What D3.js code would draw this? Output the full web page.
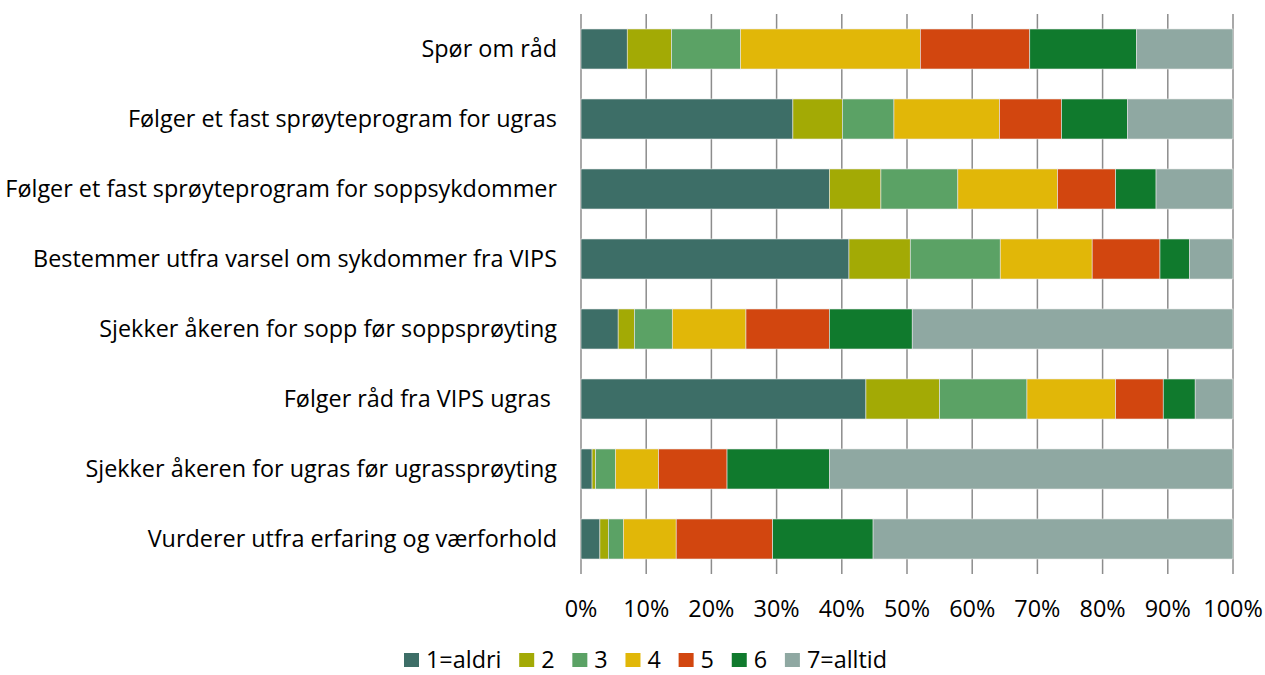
<!DOCTYPE html>
<html>
<head>
<meta charset="utf-8">
<script src="https://cdn.jsdelivr.net/npm/d3@7"></script>
<style>
  body { margin: 0; background: #fff; }
  svg { display: block; }
  text { font-family: "Open Sans", "Noto Sans", sans-serif; fill: #000; white-space: pre; }
</style>
</head>
<body>
<svg></svg>
<script>
const width = 1265, height = 675;

const categories = [
    "Spør om råd",
    "Følger et fast sprøyteprogram for ugras",
    "Følger et fast sprøyteprogram for soppsykdommer",
    "Bestemmer utfra varsel om sykdommer fra VIPS",
    "Sjekker åkeren for sopp før soppsprøyting",
    "Følger råd fra VIPS ugras ",
    "Sjekker åkeren for ugras før ugrassprøyting",
    "Vurderer utfra erfaring og værforhold"
];

const seriesNames = ["1=aldri", "2", "3", "4", "5", "6", "7=alltid"];
const colors = ["#3d6e67", "#a3aa05", "#5ba265", "#e1b708", "#d2460f", "#107a2d", "#8fa8a2"];

// percent per answer level, same order as categories
const level1 = [7.1, 32.5, 38.1, 41.1, 5.7, 43.7, 1.7, 2.9];
const level2 = [6.8, 7.6, 7.9, 9.4, 2.5, 11.3, 0.55, 1.3];
const level3 = [10.6, 7.9, 11.8, 13.8, 5.8, 13.4, 3.05, 2.3];
const level4 = [27.6, 16.2, 15.3, 14.1, 11.3, 13.6, 6.6, 8.1];
const level5 = [16.8, 9.5, 8.9, 10.4, 12.8, 7.3, 10.5, 14.8];
const level6 = [16.4, 10.1, 6.2, 4.5, 12.7, 4.9, 15.7, 15.4];
const level7 = [14.8, 16.2, 11.8, 6.7, 49.2, 5.8, 61.9, 55.2];

const tickValues = [0, 0.1, 0.2, 0.3, 0.4, 0.5, 0.6, 0.7, 0.8, 0.9, 1];

const levels = [level1, level2, level3, level4, level5, level6, level7];
const rows = categories.map((c, i) => {
    const r = { cat: c };
    seriesNames.forEach((s, k) => r[s] = levels[k][i]);
    return r;
});

const stacked = d3.stack()
    .keys(seriesNames)
    .offset(d3.stackOffsetExpand)(rows);

const svg = d3.select("svg")
    .attr("width", width)
    .attr("height", height);

const fontSize = "23.4px";

const x = d3.scaleLinear().domain([0, 1]).range([581, 1233]);
const y = d3.scaleBand()
    .domain(categories)
    .range([14, 574])
    .paddingInner(30 / 70)
    .paddingOuter(15 / 70);

// vertical gridlines
svg.append("g")
    .selectAll("line")
    .data(tickValues)
    .enter().append("line")
    .attr("x1", d => x(d))
    .attr("x2", d => x(d))
    .attr("y1", 14)
    .attr("y2", 574)
    .attr("stroke", "#8c8c8c")
    .attr("stroke-width", 1.5);

// bars
svg.append("g")
    .selectAll("g")
    .data(stacked)
    .enter().append("g")
    .attr("fill", (d, i) => colors[i])
    .selectAll("rect")
    .data(d => d)
    .enter().append("rect")
    .attr("x", d => x(d[0]))
    .attr("width", d => x(d[1]) - x(d[0]))
    .attr("y", d => y(d.data.cat))
    .attr("height", y.bandwidth())
    .attr("stroke", "#e6e6e6")
    .attr("stroke-width", 0.6);

// category labels
svg.append("g")
    .selectAll("text")
    .data(categories)
    .enter().append("text")
    .attr("x", 557)
    .attr("y", d => y(d) + y.bandwidth() / 2)
    .attr("dy", "0.35em")
    .attr("text-anchor", "end")
    .style("font-size", fontSize)
    .text(d => d);

// x axis labels
svg.append("g")
    .selectAll("text")
    .data(tickValues)
    .enter().append("text")
    .attr("x", d => x(d))
    .attr("y", 609)
    .attr("dy", "0.35em")
    .attr("text-anchor", "middle")
    .style("font-size", fontSize)
    .text(d => d3.format(".0%")(d));

// legend: spread items between x=404 and x=887
const legend = svg.append("g");
const items = seriesNames.map((s, i) => {
    const g = legend.append("g");
    g.append("rect")
        .attr("x", 0).attr("y", 653)
        .attr("width", 15).attr("height", 14)
        .attr("fill", colors[i]);
    const t = g.append("text")
        .attr("x", 22).attr("y", 660)
        .attr("dy", "0.35em")
        .style("font-size", fontSize)
        .text(s);
    return { g: g, w: 22 + t.node().getComputedTextLength() };
});
const totalW = d3.sum(items, d => d.w);
const gap = (887 - 404 - totalW) / (items.length - 1);
let lx = 404;
items.forEach(it => {
    it.g.attr("transform", `translate(${lx},0)`);
    lx += it.w + gap;
});
</script>
</body>
</html>
